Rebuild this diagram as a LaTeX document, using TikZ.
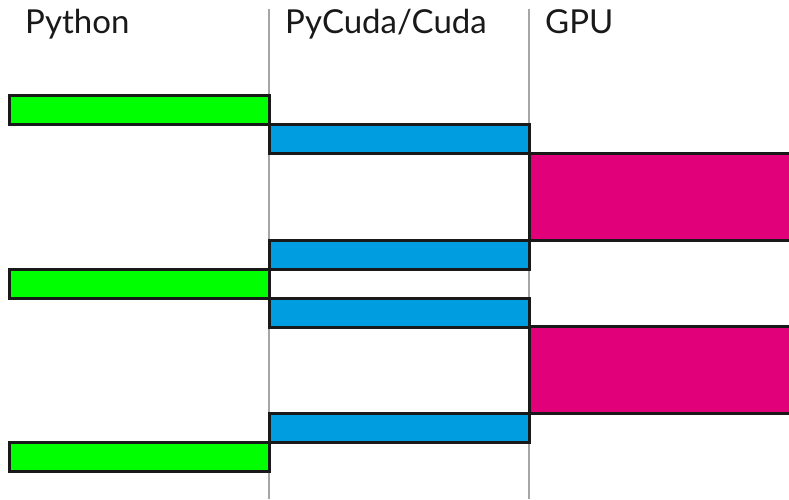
\documentclass[tikz,border=0pt]{standalone}
\usepackage{fontspec}
\setmainfont{Lato}
\definecolor{pgreen}{HTML}{00FF00}
\definecolor{pblue}{HTML}{009EE0}
\definecolor{ppink}{HTML}{E2007A}
\definecolor{sepgray}{HTML}{A6A6A8}
\begin{document}
\begin{tikzpicture}[x=1pt,y=-1pt,
  bar/.style={draw=black!90,line width=3pt,inner sep=0pt,outer sep=0pt,anchor=north west},
  pybar/.style={bar,fill=pgreen,minimum width=260pt,minimum height=29pt},
  cubar/.style={bar,fill=pblue,minimum width=260pt,minimum height=29pt},
  gpubar/.style={bar,fill=ppink,minimum width=280pt,minimum height=87pt},
  sep/.style={draw=sepgray,line width=2.5pt},
  head/.style={anchor=base west,inner sep=0pt,font=\fontsize{33}{33}\selectfont,text=black!90}]
\useasboundingbox (0,0) rectangle (789,499);
\clip (0,0) rectangle (789,499);
\fill[white] (0,0) rectangle (789,499);
\coordinate (s1t) at (269,9); \coordinate (s1b) at (269,499);
\coordinate (s2t) at (529,9); \coordinate (s2b) at (529,499);
\draw[sep] (s1t) -- (s1b);
\draw[sep] (s2t) -- (s2b);
\node[head] (hpy) at (25,33) {Python};
\node[head] (hcu) at (285,33) {PyCuda/Cuda};
\node[head] (hgpu) at (545,33) {GPU};
\node[pybar] (p1) at (9,95) {};
\node[pybar] (p2) at (9,269) {};
\node[pybar] (p3) at (9,442) {};
\node[cubar] (c1) at (269,124) {};
\node[cubar] (c2) at (269,240) {};
\node[cubar] (c3) at (269,298) {};
\node[cubar] (c4) at (269,413) {};
\node[gpubar] (g1) at (529,153) {};
\node[gpubar] (g2) at (529,326) {};
\end{tikzpicture}
\end{document}
